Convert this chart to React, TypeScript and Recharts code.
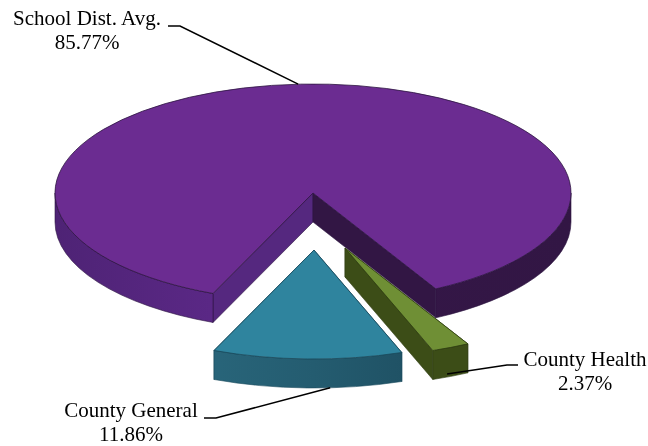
import { Pie, PieChart } from "recharts"

const sliceNames = ["School Dist. Avg.", "County Health", "County General"]
const sliceValues = [85.77, 2.37, 11.86]

const topColors = ["#6b2c91", "#6f8f35", "#2f849e"]
const edgeColors = ["#2c1440", "#2f3d12", "#1a4a5c"]
const wallColors = [
    ["#4e2375", "#622b90", "#351748", "#321644"],
    ["#3c4d17", "#3c4d17", "#3c4d17", "#3c4d17"],
    ["#2f7288", "#245c70", "#245c70", "#173f50"],
]
const faceColors = [
    ["#55287f", "#321644"],
    ["#3c4d17", "#3c4d17"],
    ["#1c4a5c", "#1c4a5c"],
]

// the pie is tilted, so every circle is squashed to an ellipse
const TILT = 0.4225
const DEPTH = 29
const explodeX = [0, 32, 1]
const explodeY = [0, 55, 57]

// where the caption and leader line of each slice sit
const captionX = [87, 585, 131]
const captionY = [25, 366, 417]
const elbowStartX = [168, 518, 204]
const elbowStartY = [26, 365, 418]
const elbowX = [180, 507, 216]
const elbowY = [26, 365, 418]
const anchorAngle = [93.3, 293.3, 273.6]
const anchorDrop = [0, 26, 29]

const data = sliceNames.map((name, i) => ({ name, value: sliceValues[i], index: i }))

const RAD = Math.PI / 180

function project(cx: number, cy: number, r: number, angle: number) {
    return [cx + r * Math.cos(angle * RAD), cy - r * TILT * Math.sin(angle * RAD)]
}

// angles go clockwise, from "from" down to "to"
function wallPath(cx: number, cy: number, r: number, from: number, to: number) {
    const a = project(cx, cy, r, from)
    const b = project(cx, cy, r, to)
    const ry = r * TILT
    const large = from - to > 180 ? 1 : 0
    return (
        `M${a[0]},${a[1]} A${r},${ry} 0 ${large} 1 ${b[0]},${b[1]} ` +
        `L${b[0]},${b[1] + DEPTH} A${r},${ry} 0 ${large} 0 ${a[0]},${a[1] + DEPTH} Z`
    )
}

function SliceShape(props: any) {
    const { cx, cy, outerRadius: r, startAngle, endAngle, payload } = props
    const i = payload.index
    const x = cx + explodeX[i]
    const y = cy + explodeY[i]
    const a = project(x, y, r, startAngle)
    const b = project(x, y, r, endAngle)
    const ry = r * TILT
    const large = startAngle - endAngle > 180 ? 1 : 0
    const top = `M${x},${y} L${a[0]},${a[1]} A${r},${ry} 0 ${large} 1 ${b[0]},${b[1]} Z`

    const face = (p: number[]) =>
        `M${x},${y} L${p[0]},${p[1]} L${p[0]},${p[1] + DEPTH} L${x},${y + DEPTH} Z`

    // only the part of the rim below the centre line faces the viewer
    const walls: { from: number; to: number }[] = []
    for (const shift of [0, 360]) {
        const from = Math.min(startAngle + shift, 360)
        const to = Math.max(endAngle + shift, 180)
        if (from > to) walls.push({ from, to })
    }
    const gradId = `wall-${i}`

    return (
        <g>
            <defs>
                <linearGradient id={gradId} gradientUnits="userSpaceOnUse" x1={x - r} x2={x + r} y1={0} y2={0}>
                    <stop offset="0" stopColor={wallColors[i][0]} />
                    <stop offset="0.5" stopColor={wallColors[i][1]} />
                    <stop offset="0.5" stopColor={wallColors[i][2]} />
                    <stop offset="1" stopColor={wallColors[i][3]} />
                </linearGradient>
            </defs>
            <path d={face(a)} fill={faceColors[i][0]} stroke={edgeColors[i]} strokeWidth={0.6} />
            <path d={face(b)} fill={faceColors[i][1]} stroke={edgeColors[i]} strokeWidth={0.6} />
            {walls.map((w, k) => (
                <path
                    key={k}
                    d={wallPath(x, y, r, w.from, w.to)}
                    fill={`url(#${gradId})`}
                    stroke={edgeColors[i]}
                    strokeWidth={0.6}
                />
            ))}
            <path d={top} fill={topColors[i]} stroke={edgeColors[i]} strokeWidth={0.8} />
        </g>
    )
}

function SliceLabel(props: any) {
    const { cx, cy, outerRadius: r, payload, value } = props
    const i = payload.index
    const end = project(cx + explodeX[i], cy + explodeY[i], r, anchorAngle[i])
    const textStyle = { fontFamily: "'Liberation Serif', serif", fontSize: 21, fill: "#000" }
    return (
        <g>
            <polyline
                points={`${elbowStartX[i]},${elbowStartY[i]} ${elbowX[i]},${elbowY[i]} ${end[0]},${end[1] + anchorDrop[i]}`}
                fill="none"
                stroke="#000"
                strokeWidth={1.5}
            />
            <text x={captionX[i]} y={captionY[i]} textAnchor="middle" style={textStyle}>
                {payload.name}
            </text>
            <text x={captionX[i]} y={captionY[i] + 24} textAnchor="middle" style={textStyle}>
                {`${value.toFixed(2)}%`}
            </text>
        </g>
    )
}

export default function App() {
    return (
        <div style={{ position: "absolute", left: 0, top: 0, width: 648, height: 446, background: "#fff", filter: "blur(0.4px)" }}>
            <PieChart width={648} height={446} margin={{ top: 0, right: 0, bottom: 0, left: 0 }}>
                <Pie
                    data={data}
                    dataKey="value"
                    nameKey="name"
                    cx={313}
                    cy={193}
                    innerRadius={0}
                    outerRadius={258}
                    startAngle={247.2}
                    endAngle={-112.8}
                    stroke="none"
                    shape={SliceShape}
                    label={SliceLabel}
                    labelLine={false}
                    isAnimationActive={false}
                />
            </PieChart>
        </div>
    )
}
